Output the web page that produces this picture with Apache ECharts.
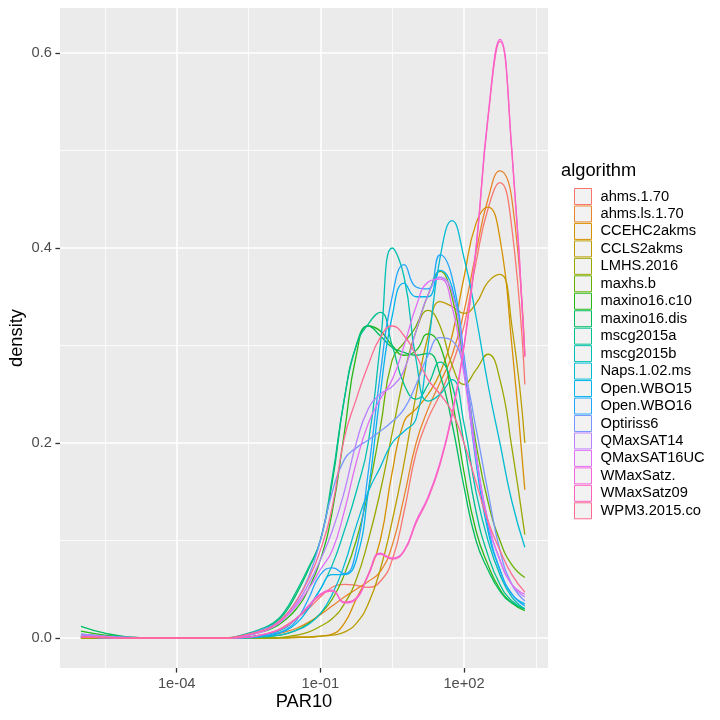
<!DOCTYPE html>
<html><head><meta charset="utf-8">
<script src="https://cdn.jsdelivr.net/npm/echarts@6/dist/echarts.min.js"></script>
<style>html,body{margin:0;padding:0;background:#fff}#c{width:720px;height:720px}</style>
</head><body><div id="c"></div>
<script>
// log10(PAR10) grid positions
const xLog10 = [-6,-5.5,-5,-4.5,-4,-3.5,-3,-2.5,-2.25,-2,-1.75,-1.5,-1.25,-1,-0.75,-0.5,-0.25,0,0.25,0.5,0.75,1,1.25,1.5,1.75,2,2.25,2.5,2.75,3,3.27];
const xMajorTicks = [-4, -1, 2];
const xMinorTicks = [-5.5, -2.5, 0.5, 3.5];
const yMajorTicks = [0, 0.2, 0.4, 0.6];
const yMinorTicks = [0.1, 0.3, 0.5];

const algorithms = ["ahms.1.70","ahms.ls.1.70","CCEHC2akms","CCLS2akms","LMHS.2016","maxhs.b","maxino16.c10","maxino16.dis","mscg2015a","mscg2015b","Naps.1.02.ms","Open.WBO15","Open.WBO16","Optiriss6","QMaxSAT14","QMaxSAT16UC","WMaxSatz.","WMaxSatz09","WPM3.2015.co"];
const colors = ["#F8766D","#E9842C","#D59100","#BB9D00","#9BA700","#6AB000","#27B819","#00BC5F","#00C08D","#00C0B3","#00BCD3","#00B4ED","#22A7FC","#7796FF","#BA81FF","#E06FF5","#F763DF","#FE62BF","#FF6B93"];

const ahms_1_70     = [0.001,0.0005,0,0,0,0,0,0.001, 0.003,0.006,0.012,0.02,0.03,0.042,0.052,0.055,0.054,0.052,0.058,0.08,0.13,0.19,0.225,0.25,0.28,0.32,0.385,0.44,0.467,0.42,0.26];
const ahms_ls_1_70  = [0.001,0.0005,0,0,0,0,0,0, 0.001,0.003,0.006,0.01,0.016,0.024,0.033,0.042,0.05,0.058,0.068,0.095,0.145,0.2,0.235,0.262,0.29,0.335,0.395,0.45,0.479,0.45,0.29];
const CCEHC2akms    = [0,0,0,0,0,0,0,0, 0,0,0.0005,0.001,0.001,0.002,0.004,0.015,0.04,0.065,0.1,0.17,0.222,0.235,0.25,0.272,0.31,0.37,0.425,0.442,0.41,0.3,0.152];
const CCLS2akms     = [0,0,0,0,0,0,0,0, 0,0,0,0.0005,0.001,0.002,0.003,0.006,0.015,0.035,0.07,0.12,0.18,0.25,0.31,0.345,0.34,0.333,0.343,0.365,0.373,0.32,0.2];
const LMHS_2016     = [0,0,0,0,0,0,0,0, 0,0,0.001,0.003,0.006,0.012,0.02,0.035,0.06,0.1,0.15,0.21,0.27,0.315,0.336,0.32,0.28,0.26,0.275,0.291,0.265,0.195,0.106];
const maxhs_b       = [0.001,0.0005,0,0,0,0,0,0.001, 0.001,0.002,0.004,0.008,0.015,0.025,0.04,0.065,0.1,0.15,0.215,0.285,0.303,0.32,0.352,0.376,0.35,0.28,0.2,0.14,0.1,0.075,0.062];
const maxino16_c10  = [0.007,0.003,0.001,0,0,0,0,0.003, 0.006,0.01,0.018,0.03,0.05,0.08,0.13,0.21,0.29,0.32,0.315,0.3,0.29,0.295,0.312,0.3,0.245,0.17,0.11,0.075,0.05,0.036,0.028];
const maxino16_dis  = [0.012,0.005,0.001,0,0,0,0,0.004, 0.008,0.014,0.025,0.045,0.07,0.1,0.16,0.245,0.3,0.32,0.31,0.298,0.293,0.29,0.292,0.27,0.22,0.155,0.1,0.07,0.048,0.036,0.03];
const mscg2015a     = [0.004,0.002,0.0005,0,0,0,0,0.005, 0.009,0.015,0.027,0.048,0.072,0.1,0.165,0.245,0.3,0.322,0.334,0.3,0.26,0.245,0.26,0.283,0.26,0.2,0.13,0.085,0.055,0.038,0.03];
const mscg2015b     = [0.001,0.0005,0,0,0,0,0,0.001, 0.003,0.005,0.01,0.02,0.032,0.05,0.075,0.11,0.15,0.2,0.3,0.4,0.37,0.285,0.243,0.25,0.265,0.22,0.15,0.1,0.065,0.042,0.03];
const Naps_1_02_ms  = [0.001,0.0005,0,0,0,0,0,0, 0.001,0.002,0.004,0.008,0.014,0.025,0.045,0.075,0.115,0.15,0.175,0.2,0.212,0.225,0.3,0.39,0.428,0.39,0.33,0.26,0.2,0.14,0.093];
const Open_WBO15    = [0.001,0.0005,0,0,0,0,0,0.001, 0.002,0.003,0.007,0.015,0.03,0.05,0.065,0.065,0.08,0.15,0.25,0.33,0.364,0.35,0.35,0.377,0.36,0.28,0.18,0.11,0.07,0.045,0.035];
const Open_WBO16    = [0.001,0.0005,0,0,0,0,0,0.001, 0.002,0.004,0.008,0.018,0.04,0.065,0.072,0.066,0.09,0.17,0.27,0.35,0.383,0.36,0.358,0.393,0.37,0.29,0.19,0.115,0.07,0.045,0.033];
const Optiriss6     = [0.003,0.0015,0.0005,0,0,0,0,0.004, 0.008,0.013,0.022,0.038,0.062,0.1,0.15,0.183,0.195,0.203,0.212,0.222,0.235,0.26,0.29,0.308,0.305,0.275,0.215,0.15,0.09,0.055,0.038];
const QMaxSAT14     = [0.004,0.002,0.0005,0,0,0,0,0.003, 0.006,0.011,0.02,0.035,0.055,0.08,0.11,0.15,0.2,0.235,0.25,0.258,0.275,0.315,0.352,0.37,0.355,0.285,0.19,0.12,0.08,0.055,0.042];
const QMaxSAT16UC   = [0.002,0.001,0,0,0,0,0,0.003, 0.006,0.011,0.02,0.033,0.05,0.07,0.09,0.13,0.18,0.22,0.245,0.265,0.3,0.34,0.365,0.368,0.34,0.27,0.185,0.12,0.08,0.055,0.045];
const WMaxSatz_     = [0.001,0.0005,0,0,0,0,0,0.001, 0.003,0.006,0.011,0.02,0.033,0.045,0.049,0.036,0.04,0.065,0.087,0.082,0.09,0.12,0.145,0.18,0.23,0.3,0.4,0.535,0.614,0.5,0.29];
const WMaxSatz09    = [0.001,0.0005,0,0,0,0,0,0.001, 0.003,0.006,0.011,0.02,0.032,0.044,0.048,0.037,0.041,0.064,0.086,0.081,0.089,0.118,0.143,0.178,0.228,0.298,0.398,0.532,0.612,0.498,0.288];
const WPM3_2015_co  = [0.001,0.0005,0,0,0,0,0,0.004, 0.007,0.012,0.022,0.038,0.06,0.09,0.135,0.205,0.245,0.28,0.308,0.32,0.31,0.29,0.265,0.25,0.232,0.2,0.16,0.12,0.09,0.065,0.047];

const densities = [ahms_1_70, ahms_ls_1_70, CCEHC2akms, CCLS2akms, LMHS_2016, maxhs_b, maxino16_c10, maxino16_dis, mscg2015a, mscg2015b, Naps_1_02_ms, Open_WBO15, Open_WBO16, Optiriss6, QMaxSAT14, QMaxSAT16UC, WMaxSatz_, WMaxSatz09, WPM3_2015_co];

const FONT = '"Liberation Sans", Arial, Helvetica, sans-serif';
const xMin = -6.437, xMax = 3.754, yMin = -0.03077, yMax = 0.64615;

function expLabel(v) {
  const a = Math.abs(Math.round(v));
  return '1e' + (v < 0 ? '-' : '+') + (a < 10 ? '0' + a : '' + a);
}

const chart = echarts.init(document.getElementById('c'), null, {renderer: 'canvas'});
const series = algorithms.map((name, i) => ({
  name: name,
  type: 'line',
  xAxisIndex: 0, yAxisIndex: 0,
  data: xLog10.map((x, j) => [x, densities[i][j]]),
  showSymbol: false, symbol: 'none',
  smooth: 0.5,
  lineStyle: {color: colors[i], width: 1.3},
  itemStyle: {color: colors[i]},
  emphasis: {disabled: true},
  z: 3
}));

chart.setOption({
  animation: false,
  backgroundColor: '#ffffff',
  grid: {left: 60, top: 8, right: 172, bottom: 52, show: true, backgroundColor: '#EBEBEB', borderWidth: 0, containLabel: false},
  xAxis: [
    {type: 'value', min: xMin, max: xMax, position: 'bottom',
     axisLine: {show: false, onZero: false},
     axisTick: {show: true, customValues: xMajorTicks, length: 4.6, lineStyle: {color: '#333333', width: 1.3}},
     axisLabel: {customValues: xMajorTicks, formatter: expLabel, color: '#4D4D4D', fontSize: 14.7, fontFamily: FONT, margin: 8},
     splitLine: {show: true, lineStyle: {color: '#FFFFFF', width: 1.6}}},
    {type: 'value', min: xMin, max: xMax, position: 'bottom',
     axisLine: {show: false, onZero: false},
     axisTick: {show: false, customValues: xMinorTicks},
     axisLabel: {show: false, customValues: xMinorTicks},
     splitLine: {show: true, lineStyle: {color: '#FFFFFF', width: 0.8}}}
  ],
  yAxis: [
    {type: 'value', min: yMin, max: yMax, position: 'left',
     axisLine: {show: false, onZero: false},
     axisTick: {show: true, customValues: yMajorTicks, length: 4.6, lineStyle: {color: '#333333', width: 1.3}},
     axisLabel: {customValues: yMajorTicks, formatter: v => v.toFixed(1), color: '#4D4D4D', fontSize: 14.7, fontFamily: FONT, margin: 8},
     splitLine: {show: true, lineStyle: {color: '#FFFFFF', width: 1.6}}},
    {type: 'value', min: yMin, max: yMax, position: 'left',
     axisLine: {show: false, onZero: false},
     axisTick: {show: false, customValues: yMinorTicks},
     axisLabel: {show: false, customValues: yMinorTicks},
     splitLine: {show: true, lineStyle: {color: '#FFFFFF', width: 0.8}}}
  ],
  legend: {
    orient: 'vertical', left: 574, top: 188, padding: 0,
    icon: 'rect', itemWidth: 17, itemHeight: 16, itemGap: 0.46,
    selectedMode: false,
    textStyle: {fontSize: 14.7, fontFamily: FONT, color: '#000000', padding: [0, 0, 0, 4]},
    data: algorithms.map((n, i) => ({name: n, itemStyle: {color: '#F2F2F2', borderColor: colors[i], borderWidth: 1}}))
  },
  graphic: [
    {type: 'text', x: 561, y: 171, style: {text: 'algorithm', font: '18.3px ' + FONT, fill: '#000000', align: 'left', verticalAlign: 'middle'}},
    {type: 'text', x: 304, y: 702, style: {text: 'PAR10', font: '18.3px ' + FONT, fill: '#000000', align: 'center', verticalAlign: 'middle'}},
    {type: 'text', x: 17, y: 338, rotation: Math.PI / 2, style: {text: 'density', font: '18.3px ' + FONT, fill: '#000000', align: 'center', verticalAlign: 'middle'}}
  ],
  series: series
});
</script></body></html>
